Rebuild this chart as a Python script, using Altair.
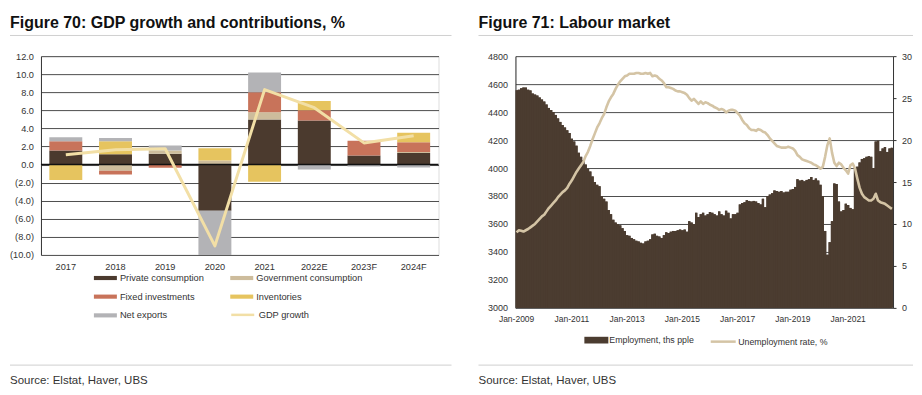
import altair as alt
import pandas as pd

FONT = "Liberation Sans"

# ---------------- Figure 70 data ----------------
years = ["2017", "2018", "2019", "2020", "2021", "2022E", "2023F", "2024F"]
components = ["Private consumption", "Government consumption", "Fixed investments",
              "Inventories", "Net exports"]
private_consumption = [1.56, 1.15, 1.20, -5.10, 5.00, 4.87, 1.00, 1.27]
government_consumption = [0.00, -0.69, 0.36, 0.45, 0.80, 0.00, 0.00, 0.11]
fixed_investments = [1.02, -0.40, -0.36, 0.00, 2.20, 1.13, 1.65, 1.09]
inventories = [-1.70, 1.43, 0.00, 1.37, -1.90, 1.05, 0.00, 1.05]
net_exports = [0.45, 0.37, 0.54, -4.90, 2.20, -0.55, -0.22, -0.33]
gdp_growth = [1.10, 1.65, 1.75, -9.00, 8.30, 6.30, 2.40, 3.20]
comp_colors = ["#4b3a2e", "#cdbc9c", "#c8735a", "#e6c45f", "#b3b3b6"]
gdp_label = "GDP growth"
gdp_color = "#f2dfa6"
gdp_ticks = [-10, -8, -6, -4, -2, 0, 2, 4, 6, 8, 10, 12]

title_left = "Figure 70: GDP growth and contributions, %"
title_right = "Figure 71: Labour market"
source_text = "Source: Elstat, Haver, UBS"

# ---------------- Figure 71 data ----------------
employment = [
    4557, 4560, 4570, 4576, 4575, 4560, 4555, 4533, 4525, 4518, 4505, 4490,
    4475, 4455, 4430, 4415, 4400, 4380, 4355, 4330, 4307, 4290, 4270, 4250,
    4210, 4190, 4160, 4110, 4080, 4055, 4025, 3995, 3975, 3940, 3900, 3880,
    3870, 3800, 3780, 3760, 3700, 3670, 3630, 3610, 3600, 3590, 3570, 3550,
    3520, 3515, 3500, 3490, 3480, 3475, 3465, 3460, 3475, 3480, 3490, 3525,
    3530, 3515, 3510, 3500, 3520, 3540, 3535, 3545, 3550, 3550, 3555, 3560,
    3555, 3560, 3545, 3620, 3610, 3600, 3680, 3650, 3670, 3680, 3660, 3670,
    3685, 3680, 3670, 3660, 3690, 3670, 3660, 3695, 3680, 3640, 3670, 3670,
    3680, 3740, 3750, 3755, 3770, 3765, 3760, 3765, 3760, 3750, 3740, 3780,
    3720, 3800, 3810, 3820, 3840, 3835, 3830, 3835, 3825, 3830, 3830, 3845,
    3850, 3865, 3920, 3910, 3915, 3905, 3915, 3920, 3935, 3915, 3925, 3910,
    3880, 3800, 3550, 3380, 3470, 3620, 3890, 3885, 3760, 3690, 3700, 3745,
    3735, 3715, 3705, 4000, 4010, 4040, 4065, 4070, 4080, 4085, 4080, 4000,
    4190, 4195, 4120, 4140, 4150, 4115, 4140, 4145,
]
unemployment = [
    9.0, 9.25, 9.2, 9.1, 9.25, 9.4, 9.6, 9.8, 10.0, 10.3, 10.6, 10.9,
    11.1, 11.5, 11.9, 12.2, 12.5, 12.8, 13.2, 13.5, 13.8, 14.0, 14.3, 14.8,
    15.2, 15.7, 16.2, 16.6, 17.0, 17.4, 18.1, 18.6, 19.3, 20.1, 20.8, 21.5,
    22.0, 22.6, 23.1, 23.9, 24.6, 25.1, 25.5, 26.1, 26.6, 27.0, 27.3, 27.6,
    27.7, 27.9, 27.9, 27.9, 28.0, 28.0, 27.9, 27.9, 28.0, 27.9, 28.0, 27.6,
    27.7, 27.6, 27.3, 27.1, 26.8, 26.3, 26.3, 26.2, 26.1, 25.9, 25.8, 25.8,
    25.7, 25.6, 25.4, 25.0, 24.7, 24.9, 24.6, 24.3, 24.6, 24.3, 24.5, 24.4,
    24.2, 24.1, 23.9, 23.8, 23.6, 23.7, 23.6, 23.3, 23.5, 23.6, 23.6, 23.5,
    23.2, 22.9, 22.4, 22.0, 21.8, 21.4, 21.2, 21.2, 21.1, 21.3, 21.2, 21.0,
    20.9, 20.6, 20.2, 19.9, 19.6, 19.3, 19.2, 19.1, 19.1, 19.1, 19.2, 19.1,
    19.0, 18.7, 18.2, 18.0, 17.7, 17.6, 17.5, 17.4, 17.3, 17.1, 17.0, 16.8,
    16.6, 16.8, 18.0, 19.4, 20.2, 18.5, 17.3, 16.9, 17.3, 17.1, 16.7, 16.4,
    16.0, 17.0, 17.2, 16.6, 15.4, 14.3, 13.6, 13.2, 13.0, 12.8, 12.8, 13.0,
    13.6, 12.8, 12.6, 12.5, 12.4, 12.2, 12.0, 11.8,
]
months = list(pd.date_range("2009-01-01", periods=len(employment), freq="MS").strftime("%b-%Y"))
month_ticks = ["Jan-2009", "Jan-2011", "Jan-2013", "Jan-2015", "Jan-2017", "Jan-2019", "Jan-2021"]
emp_label = "Employment, ths pple"
unemp_label = "Unemployment rate, %"
emp_color = "#4b3c30"
unemp_color = "#d4c4a5"
emp_ticks = list(range(3000, 4801, 200))
unemp_ticks = [0, 5, 10, 15, 20, 25, 30]

# ---------------- tables ----------------
series = [private_consumption, government_consumption, fixed_investments, inventories, net_exports]
rows = []
for ci, (name, vals) in enumerate(zip(components, series)):
    for y, v in zip(years, vals):
        rows.append({"year": y, "component": name, "idx": ci, "value": v})
bars_df = pd.DataFrame(rows)
gdp_df = pd.DataFrame({"year": years, "gdp": gdp_growth, "s": gdp_label})
lab_df = pd.DataFrame({"month": months, "emp": employment, "unemp": unemployment,
                       "s1": emp_label, "s2": unemp_label})

GRID = "#4d4d4d"
TXT = "#333333"
RULE = "#d0d0d0"

# ---------------- left panel ----------------
W1, H1 = 398, 199
x_years = alt.X("year:N", sort=years, title=None,
                scale=alt.Scale(paddingInner=0.337, paddingOuter=0.1685),
                axis=alt.Axis(labelAngle=0, ticks=False, domain=False, grid=False,
                              labelFont=FONT, labelFontSize=9.2, labelColor=TXT,
                              labelPadding=7.5))
y_gdp_axis = alt.Axis(values=gdp_ticks, grid=True, gridColor=GRID, gridWidth=1,
                      domain=True, domainColor="#333333", ticks=False,
                      labelFont=FONT, labelFontSize=9.2, labelColor=TXT,
                      labelPadding=7.5, labelFlush=False, labelOverlap=False,
                      labelExpr="datum.value < 0 ? '(' + format(-datum.value, '.1f') + ')' : format(datum.value, '.1f')")
bars = alt.Chart(bars_df).mark_bar(clip=True).encode(
    x=x_years,
    y=alt.Y("value:Q", stack="zero", title=None,
            scale=alt.Scale(domain=[-10, 12], nice=False), axis=y_gdp_axis),
    color=alt.Color("component:N", sort=components,
                    scale=alt.Scale(domain=components, range=comp_colors),
                    legend=alt.Legend(title=None, orient="none", legendX=53, legendY=210.5,
                                      direction="horizontal",
                                      columns=2, columnPadding=25.5, rowPadding=1.75,
                                      padding=0, symbolType="M-1,-0.18H1V0.18H-1Z",
                                      symbolSize=529, symbolStrokeWidth=0,
                                      labelFont=FONT, labelFontSize=9.3, labelColor=TXT,
                                      labelOffset=3)),
    order=alt.Order("idx:Q", sort="ascending"),
)
zero_rule = alt.Chart(pd.DataFrame({"zero": [0]})).mark_rule(color="#111111", strokeWidth=1.5).encode(
    y=alt.Y("zero:Q", title=None, axis=y_gdp_axis))
gdp_line = alt.Chart(gdp_df).mark_line(strokeWidth=3, strokeJoin="round").encode(
    x=alt.X("year:N", sort=years),
    y=alt.Y("gdp:Q", title=None, axis=y_gdp_axis),
    color=alt.Color("s:N", scale=alt.Scale(domain=[gdp_label], range=[gdp_color]),
                    legend=alt.Legend(title=None, orient="none", legendX=189, legendY=246,
                                      padding=0, symbolType="stroke", symbolSize=529,
                                      symbolStrokeWidth=2.5, labelFont=FONT,
                                      labelFontSize=9.3, labelColor=TXT, labelOffset=3)),
)


def decorations(title, x0, x1):
    t = alt.Chart(pd.DataFrame({"t": [title]})).mark_text(
        align="left", baseline="alphabetic", font=FONT, fontSize=16, fontWeight="bold",
        color="#111111").encode(text="t:N", x=alt.value(x0), y=alt.value(-28.4))
    r1 = alt.Chart(pd.DataFrame({"r": [1]})).mark_rule(color=RULE, strokeWidth=1).encode(
        x=alt.value(x0), x2=alt.value(x1), y=alt.value(-20.7))
    r2 = alt.Chart(pd.DataFrame({"r": [1]})).mark_rule(color=RULE, strokeWidth=1).encode(
        x=alt.value(x0), x2=alt.value(x1), y=alt.value(309.3))
    s = alt.Chart(pd.DataFrame({"t": [source_text]})).mark_text(
        align="left", baseline="alphabetic", font=FONT, fontSize=11.5,
        color=TXT).encode(text="t:N", x=alt.value(x0), y=alt.value(328.6))
    return [t, r1, r2, s]


left = alt.layer(bars, zero_rule, gdp_line, *decorations(title_left, -31, 411)).resolve_scale(
    color="independent").properties(width=W1, height=H1)

# ---------------- right panel ----------------
W2, H2 = 378, 252
x_months = alt.X("month:O", sort=months, title=None,
                 scale=alt.Scale(paddingInner=0, paddingOuter=0),
                 axis=alt.Axis(values=month_ticks, labelAngle=0, ticks=False, domain=False,
                               grid=False, labelFont=FONT, labelFontSize=8.5,
                               labelColor=TXT, labelPadding=7, labelOverlap=False))
y_emp = alt.Y("emp:Q", title=None, scale=alt.Scale(domain=[3000, 4800], nice=False),
              axis=alt.Axis(values=emp_ticks, grid=True, gridColor=GRID, gridWidth=1,
                            domain=True, domainColor="#333333", ticks=False, format="d",
                            labelFont=FONT, labelFontSize=9, labelColor=TXT,
                            labelPadding=8, labelFlush=False, labelOverlap=False))
# stepped area underneath the monthly bars fills any anti-aliasing seams between them
emp_fill = alt.Chart(lab_df).mark_area(interpolate="step", color=emp_color).encode(
    x=x_months, y=y_emp, y2=alt.datum(3000))
emp_bars = alt.Chart(lab_df).mark_bar().encode(
    x=x_months,
    y=y_emp,
    y2=alt.datum(3000),
    color=alt.Color("s1:N", scale=alt.Scale(domain=[emp_label], range=[emp_color]),
                    legend=alt.Legend(title=None, orient="none", legendX=69, legendY=272.3,
                                      padding=0, symbolType="M-1,-0.28H1V0.28H-1Z",
                                      symbolSize=576, symbolStrokeWidth=0,
                                      labelFont=FONT, labelFontSize=8.8, labelColor=TXT,
                                      labelOffset=1)),
)
emp_layer = alt.layer(emp_fill, emp_bars)
unemp_line = alt.Chart(lab_df).mark_line(strokeWidth=2.6, strokeJoin="round").encode(
    x=alt.X("month:O", sort=months),
    y=alt.Y("unemp:Q", title=None, scale=alt.Scale(domain=[0, 30], nice=False),
            axis=alt.Axis(orient="right", values=unemp_ticks, grid=False, domain=True,
                          domainColor="#333333", ticks=True, tickSize=3,
                          tickColor="#333333", labelFont=FONT, labelFontSize=9,
                          labelColor=TXT, labelPadding=5.5, labelFlush=False,
                          labelOverlap=False)),
    color=alt.Color("s2:N", scale=alt.Scale(domain=[unemp_label], range=[unemp_color]),
                    legend=alt.Legend(title=None, orient="none", legendX=194, legendY=271.8,
                                      padding=0, symbolType="stroke", symbolSize=625,
                                      symbolStrokeWidth=2.5, labelFont=FONT,
                                      labelFontSize=8.8, labelColor=TXT, labelOffset=1)),
)
right = alt.layer(emp_layer, unemp_line, *decorations(title_right, -37, 398)).resolve_scale(
    y="independent", color="independent").properties(width=W2, height=H2)

chart = alt.hconcat(left, right, spacing=77, bounds="flush").properties(
    padding={"left": 0, "top": 6, "right": 0, "bottom": 0}
).configure_view(strokeWidth=0).configure(background="white")

chart.save("out.html", embed_options={"renderer": "svg", "actions": False})
